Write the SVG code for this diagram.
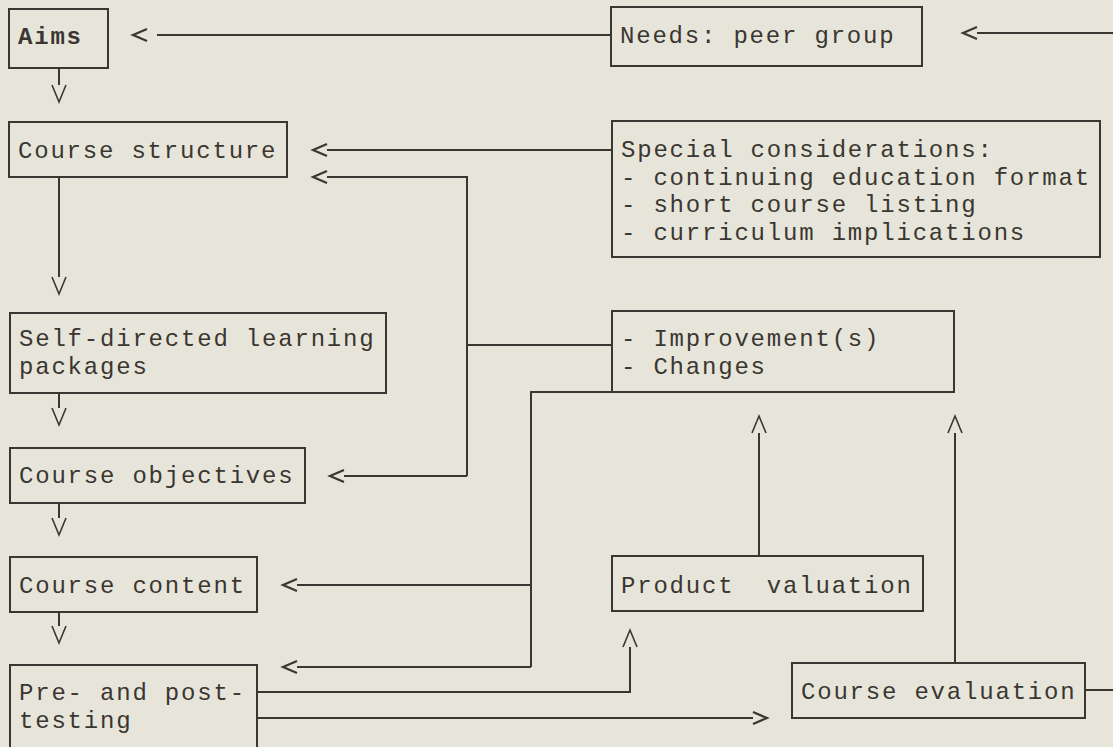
<svg xmlns="http://www.w3.org/2000/svg" width="1113" height="747" viewBox="0 0 1113 747">
<style>
.bg{fill:#e7e5da}
.box{fill:none;stroke:#3b3631;stroke-width:2}
.t{font-family:"Liberation Mono","Courier New",monospace;font-size:24px;letter-spacing:1.8px;fill:#3b3631;white-space:pre}
.b{font-weight:bold}
.c{fill:none;stroke:#3b3631;stroke-width:2}
</style>
<defs>
<marker id="ah" markerUnits="userSpaceOnUse" orient="auto" refX="0" refY="0" markerWidth="30" markerHeight="30" viewBox="-5 -15 30 30" overflow="visible">
<path d="M0,-6 L14,0 L0,6" fill="none" stroke="#3b3631" stroke-width="2.2"/>
</marker>
<marker id="ahg" markerUnits="userSpaceOnUse" orient="auto" refX="0" refY="0" markerWidth="40" markerHeight="30" viewBox="-5 -15 40 30" overflow="visible">
<path d="M10,-6 L24,0 L10,6" fill="none" stroke="#3b3631" stroke-width="2.2"/>
</marker>
<marker id="av" markerUnits="userSpaceOnUse" orient="auto" refX="0" refY="0" markerWidth="30" markerHeight="30" viewBox="-5 -15 30 30" overflow="visible">
<path d="M0,-7 L17,0 L0,7" fill="none" stroke="#3b3631" stroke-width="1.6"/>
</marker>
</defs>
<rect class="bg" x="0" y="0" width="1113" height="747"/>

<g id="aims"><rect class="box" x="9" y="9" width="99" height="59"/><text class="t b" x="18" y="44">Aims</text></g>
<g id="needs"><rect class="box" x="611" y="7" width="311" height="59"/><text class="t" x="620" y="43">Needs: peer group</text></g>
<g id="course-structure"><rect class="box" x="9" y="122" width="278" height="55"/><text class="t" x="18" y="158">Course structure</text></g>
<g id="special"><rect class="box" x="612" y="121" width="488" height="136"/>
<text class="t" x="621" y="157">Special considerations:</text>
<text class="t" x="621" y="184.5">- continuing education format</text>
<text class="t" x="621" y="212">- short course listing</text>
<text class="t" x="621" y="239.5">- curriculum implications</text></g>
<g id="self-directed"><rect class="box" x="10" y="313" width="376" height="80"/>
<text class="t" x="19" y="346">Self-directed learning</text>
<text class="t" x="19" y="373.5">packages</text></g>
<g id="improvement"><rect class="box" x="612" y="311" width="342" height="81"/>
<text class="t" x="621" y="346">- Improvement(s)</text>
<text class="t" x="621" y="373.5">- Changes</text></g>
<g id="objectives"><rect class="box" x="10" y="448" width="295" height="55"/><text class="t" x="19" y="483">Course objectives</text></g>
<g id="content"><rect class="box" x="10" y="557" width="247" height="55"/><text class="t" x="19" y="593">Course content</text></g>
<g id="product"><rect class="box" x="612" y="556" width="311" height="55"/><text class="t" x="621" y="593">Product  valuation</text></g>
<g id="pretest"><rect class="box" x="10" y="665" width="247" height="100"/>
<text class="t" x="19" y="700">Pre- and post-</text>
<text class="t" x="19" y="727.5">testing</text></g>
<g id="evaluation"><rect class="box" x="792" y="663" width="293" height="55"/><text class="t" x="801" y="699">Course evaluation</text></g>

<g id="connectors">
<path class="c" d="M611,35 L157,35" marker-end="url(#ahg)"/>
<path class="c" d="M1113,33 L977,33" marker-end="url(#ah)"/>
<path class="c" d="M59,68 L59,85" marker-end="url(#av)"/>
<path class="c" d="M612,150 L327,150" marker-end="url(#ah)"/>
<path class="c" d="M467,476 L467,177 L327,177" marker-end="url(#ah)"/>
<path class="c" d="M612,345 L467,345"/>
<path class="c" d="M467,476 L344,476" marker-end="url(#ah)"/>
<path class="c" d="M59,177 L59,277" marker-end="url(#av)"/>
<path class="c" d="M59,393 L59,408" marker-end="url(#av)"/>
<path class="c" d="M59,503 L59,518" marker-end="url(#av)"/>
<path class="c" d="M59,612 L59,626" marker-end="url(#av)"/>
<path class="c" d="M612,392 L531,392 L531,667"/>
<path class="c" d="M531,585 L297,585" marker-end="url(#ah)"/>
<path class="c" d="M531,667 L297,667" marker-end="url(#ah)"/>
<path class="c" d="M759,556 L759,433" marker-end="url(#av)"/>
<path class="c" d="M955,663 L955,433" marker-end="url(#av)"/>
<path class="c" d="M257,692 L630,692 L630,647" marker-end="url(#av)"/>
<path class="c" d="M257,718 L753,718" marker-end="url(#ah)"/>
<path class="c" d="M1085,690 L1113,690"/>
</g>
</svg>
